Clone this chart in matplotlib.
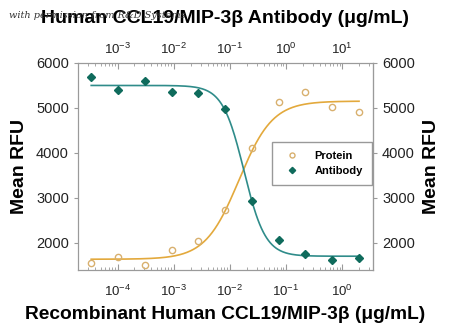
import numpy as np
import matplotlib
matplotlib.use('Agg')
import matplotlib.pyplot as plt

plt.rcParams['font.family'] = ['Liberation Sans', 'DejaVu Sans']
plt.rcParams['mathtext.default'] = 'regular'

# protein concentrations (ug/mL), bottom axis; antibody is 10x, top axis
protein_conc = [3.39e-5, 1.02e-4, 3.05e-4, 9.14e-4, 2.74e-3, 8.23e-3, 0.0247, 0.0741, 0.222, 0.667, 2.0]
antibody_conc = [c * 10 for c in protein_conc]

protein_rfu = [1556, 1689, 1519, 1837, 2044, 2733, 4104, 5119, 5356, 5015, 4904]
antibody_rfu = [5681, 5385, 5593, 5348, 5319, 4963, 2926, 2067, 1756, 1622, 1667]

# 4PL fit parameters: bottom, top, EC50, hill
protein_fit = (1637, 5148, 0.0145, 1.45)
antibody_fit = (1704, 5496, 0.1785, -2.28)

def four_pl(x, p):
    bottom, top, ec50, hill = p
    return bottom + (top - bottom) / (1 + (ec50 / x) ** hill)

prot_color = '#E3A93C'
prot_marker = '#D8B06E'
ab_color = '#2F8C8A'
ab_marker = '#0F6B5C'

fig = plt.figure(figsize=(4.5, 3.32), dpi=100)
ax = fig.add_axes([0.1733, 0.187, 0.6556, 0.624])
ax_top = ax.twiny()

xx = np.logspace(np.log10(protein_conc[0]), np.log10(protein_conc[-1]), 300)
ax.plot(xx, four_pl(xx, protein_fit), color=prot_color, lw=1.2)
p1, = ax.plot(protein_conc, protein_rfu, 'o', mfc='none', mec=prot_marker, ms=4.5, mew=1.0, label='Protein')

xa = np.logspace(np.log10(antibody_conc[0]), np.log10(antibody_conc[-1]), 300)
ax_top.plot(xa, four_pl(xa, antibody_fit), color=ab_color, lw=1.2)
p2, = ax_top.plot(antibody_conc, antibody_rfu, 'D', color=ab_marker, ms=4, label='Antibody')

ax.set_xscale('log')
ax_top.set_xscale('log')
ax.set_xlim(1.97e-5, 3.55)
ax_top.set_xlim(1.97e-4, 35.5)
ax.set_ylim(1400, 6000)
ax.set_yticks([2000, 3000, 4000, 5000, 6000])

ax_r = ax.secondary_yaxis('right')
ax_r.set_yticks([2000, 3000, 4000, 5000, 6000])

for a in (ax, ax_top):
    for s in a.spines.values():
        s.set_color('#9a9a9a')
for s in ax_r.spines.values():
    s.set_color('#9a9a9a')

ax.tick_params(axis='x', which='both', direction='in', colors='#9a9a9a', labelcolor='#222222', labelsize=9.5, pad=10)
ax.tick_params(axis='x', which='major', length=4)
ax.tick_params(axis='x', which='minor', length=2)
ax_top.tick_params(axis='x', which='both', direction='in', colors='#9a9a9a', labelcolor='#222222', labelsize=9.5, pad=4)
ax_top.tick_params(axis='x', which='major', length=4)
ax_top.tick_params(axis='x', which='minor', length=2)
ax.tick_params(axis='y', direction='out', length=3, colors='#9a9a9a', labelcolor='#222222', labelsize=10.5)
ax_r.tick_params(axis='y', direction='out', length=3, colors='#9a9a9a', labelcolor='#222222', labelsize=10.5)

ax.set_ylabel('Mean RFU', fontsize=14, fontweight='bold', labelpad=6)
ax_r.set_ylabel('Mean RFU', fontsize=14, fontweight='bold', labelpad=6)
ax.set_xlabel('Recombinant Human CCL19/MIP-3\u03b2 (\u03bcg/mL)', fontsize=13.8, fontweight='bold', labelpad=5)
ax_top.set_xlabel('Human CCL19/MIP-3\u03b2 Antibody (\u03bcg/mL)', fontsize=14, fontweight='bold', labelpad=14)

leg = ax.legend(handles=[p1, p2], loc='upper left', bbox_to_anchor=(0.64, 0.645),
                frameon=True, fancybox=False, edgecolor='#808080',
                prop={'weight': 'bold', 'size': 8}, handletextpad=1.0, borderpad=0.8,
                markerscale=0.8)

fig.text(0.02, 0.952, 'with permission from R&D Systems', fontsize=7, family='DejaVu Serif',
         style='italic', color='#333333', va='center')

fig.savefig('out.png', dpi=100)
